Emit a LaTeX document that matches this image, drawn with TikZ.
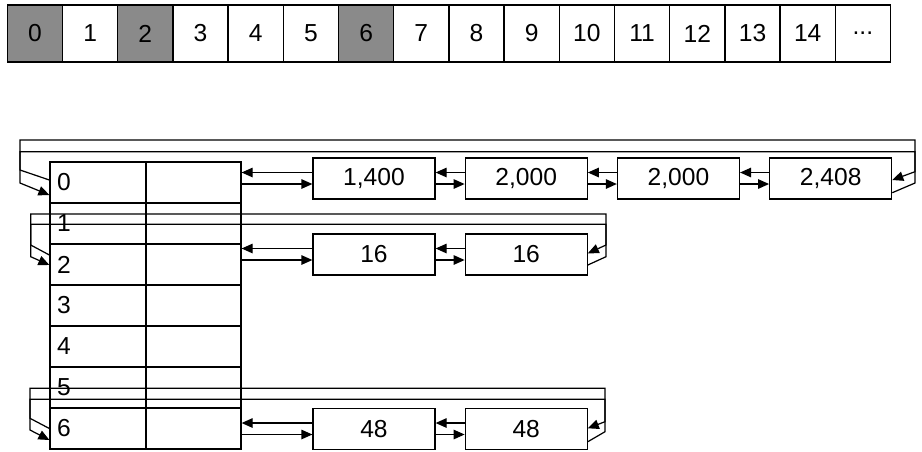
\documentclass[tikz,border=0pt]{standalone}
\usepackage{fontspec}
\setmainfont{Liberation Sans}
\usetikzlibrary{arrows.meta, positioning, calc}
\definecolor{slotgray}{HTML}{8A8A8A}

\begin{document}
\begin{tikzpicture}[
    node distance=0.58cm,
    every node/.style={font=\fontsize{14}{16}\selectfont, text=black},
    slot/.style={
        draw, line width=0.7pt,
        minimum width=1.104cm, minimum height=1.14cm,
        inner sep=0pt
    },
    keycell/.style={
        draw, line width=0.7pt,
        minimum height=0.82cm, text width=1.64cm,
        inner xsep=0.14cm, inner ysep=0pt, align=left
    },
    valcell/.style={
        draw, line width=0.7pt,
        minimum width=1.9cm, minimum height=0.82cm, inner sep=0pt
    },
    block/.style={
        draw, line width=0.7pt,
        minimum width=2.44cm, minimum height=0.82cm, inner sep=0pt
    },
    ptr/.style={-{Triangle[length=0.22cm, width=0.19cm]}, line width=0.7pt},
    ring/.style={ptr, line join=miter}
]
\useasboundingbox (0,0) rectangle (18.44,-9.02);

% === SLOT ARRAY ===
\foreach \i/\shade in {0/slotgray, 1/white, 2/slotgray, 3/white, 4/white,
                       5/white, 6/slotgray, 7/white, 8/white, 9/white,
                       10/white, 11/white, 12/white, 13/white, 14/white}{
    \node[slot, fill=\shade] (s\i) at ({0.698+1.104*\i}, -0.67) {\i};
}
\node[slot] (s15) at ({0.698+1.104*15}, -0.67) {...};

% === HASH TABLE ===
\foreach \r in {0,...,6}{
    \node[keycell] (k\r) at (1.96, {-3.65-0.82*\r}) {\r};
    \node[valcell] (v\r) at (3.87, {-3.65-0.82*\r}) {};
}

% === BUCKET LISTS ===
\node[block] (b01) at (7.48, -3.57) {1,400};
\node[block, right=of b01] (b02) {2,000};
\node[block, right=of b02] (b03) {2,000};
\node[block, right=of b03] (b04) {2,408};

\node[block] (c01) at (7.48, -5.09) {16};
\node[block, right=of c01] (c02) {16};

\node[block] (d01) at (7.48, -8.58) {48};
\node[block, right=of d01] (d02) {48};

% ── PREV / NEXT POINTERS ───────────────────────────────────────
\foreach \a/\b in {v0/b01, b01/b02, b02/b03, b03/b04,
                   v2/c01, c01/c02, v6/d01, d01/d02}{
    \draw[ptr] ($(\b.west)+(0,0.12)$) -- ($(\a.east |- \b.west)+(0,0.12)$);
    \draw[ptr] ($(\a.east |- \b.west)+(0,-0.11)$) -- ($(\b.west)+(0,-0.11)$);
}

% ── WRAP-AROUND POINTERS ───────────────────────────────────────

% Bucket 0
\draw[ring] ($(b04.east)+(0,-0.284)$) -- (18.3,-3.66) -- (18.3,-2.8)
    -- (0.4,-2.8) -- (0.4,-3.66) -- ($(k0.west)+(0,-0.25)$);
\draw[ring] ($(k0.west)+(0,0.05)$) -- (0.4,-3.4) -- (0.4,-3.034)
    -- (18.3,-3.034) -- (18.3,-3.434) -- ($(b04.east)+(0,-0.03)$);

% Bucket 2
\draw[ring] ($(c02.east)+(0,-0.21)$) -- (12.12,-5.134) -- (12.12,-4.28)
    -- (0.614,-4.28) -- (0.614,-5.134) -- ($(k2.west)+(0,-0.01)$);
\draw[ring] ($(k2.west)+(0,0.19)$) -- (0.614,-4.9) -- (0.614,-4.486)
    -- (12.12,-4.486) -- (12.12,-4.9) -- ($(c02.east)+(0,0.024)$);

% Bucket 6
\draw[ring] ($(d02.east)+(0,-0.254)$) -- (12.1,-8.634) -- (12.1,-7.766)
    -- (0.6,-7.766) -- (0.6,-8.6) -- ($(k6.west)+(0,-0.23)$);
\draw[ring] (k6.west) -- (0.6,-8.366) -- (0.6,-7.986)
    -- (12.1,-7.986) -- (12.1,-8.434) -- ($(d02.east)+(0,0.014)$);

\end{tikzpicture}
\end{document}
